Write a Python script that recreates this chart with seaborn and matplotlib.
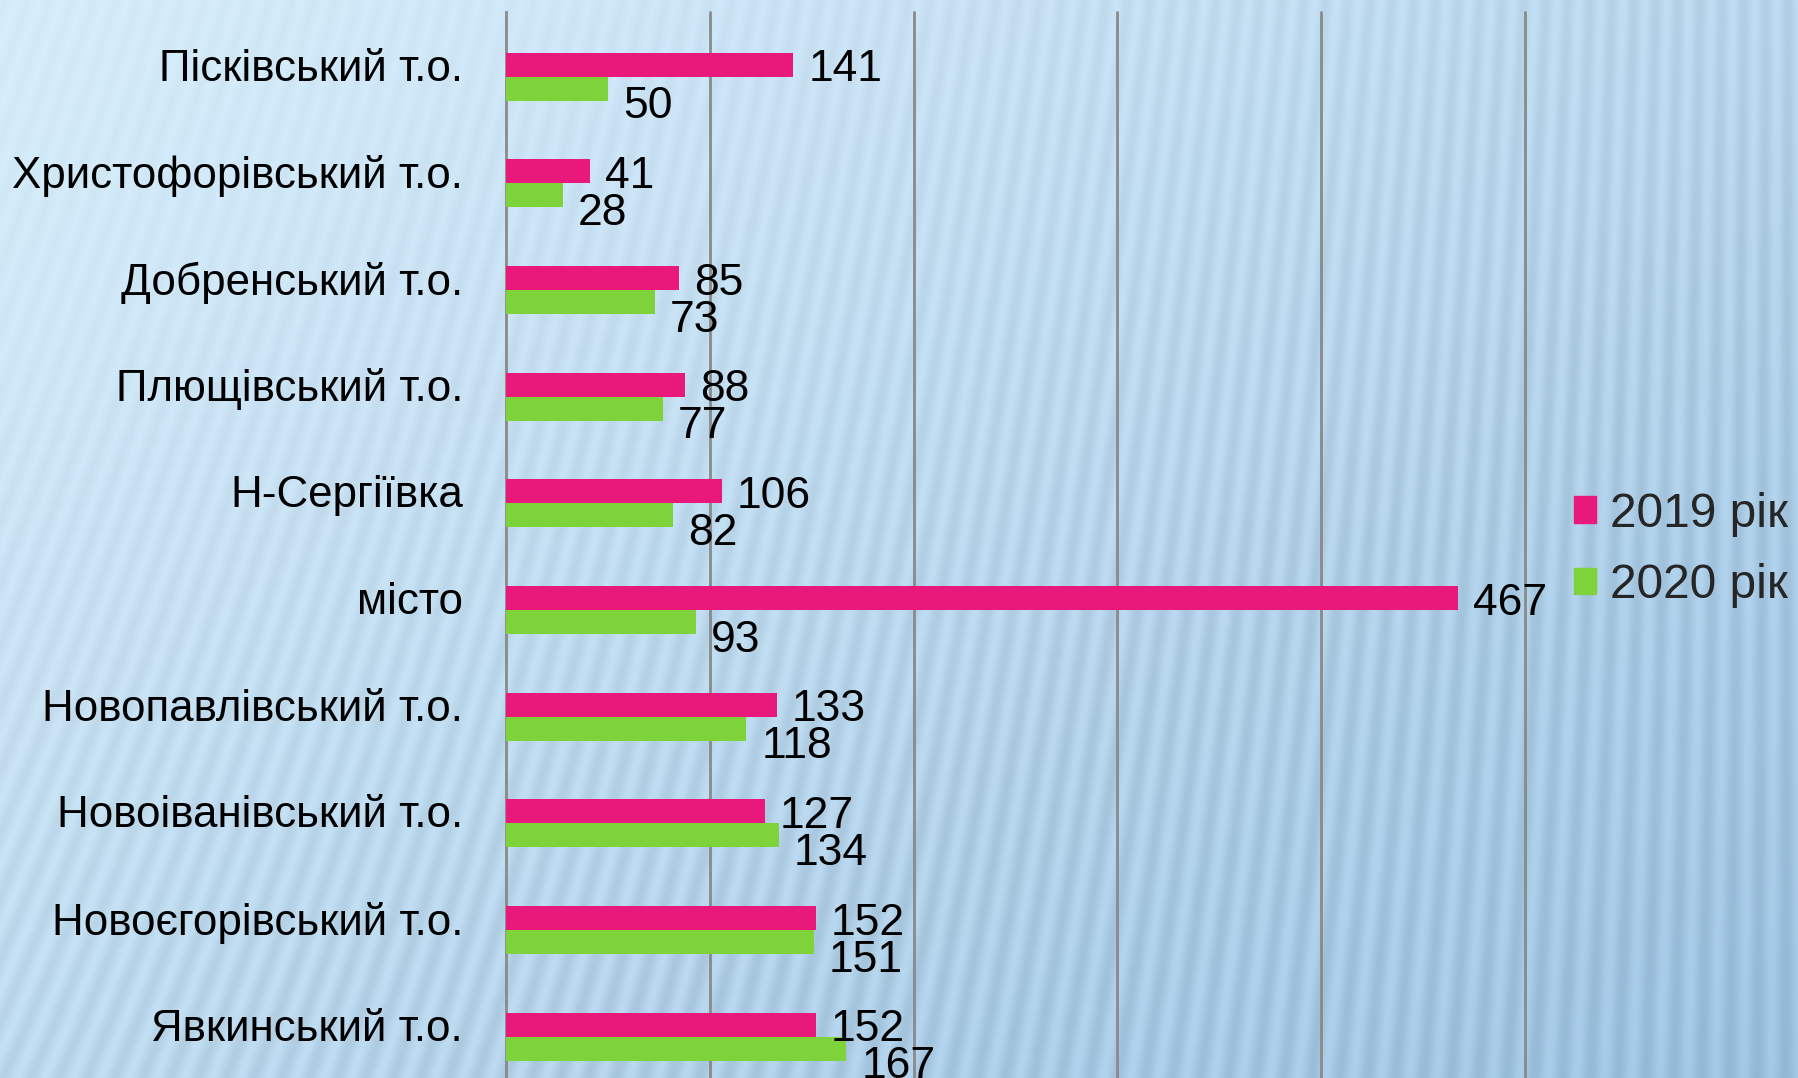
import numpy as np
import pandas as pd
import matplotlib
matplotlib.use('Agg')
import matplotlib.pyplot as plt
import seaborn as sns
from matplotlib.patches import Patch

# ---- data ----
districts = ['Пісківський т.о.', 'Христофорівський т.о.', 'Добренський т.о.',
             'Плющівський т.о.', 'Н-Сергіївка', 'місто', 'Новопавлівський т.о.',
             'Новоіванівський т.о.', 'Новоєгорівський т.о.', 'Явкинський т.о.']
y2019 = [141, 41, 85, 88, 106, 467, 133, 127, 152, 152]
y2020 = [50, 28, 73, 77, 82, 93, 118, 134, 151, 167]
years = ['2019 рік', '2020 рік']
colors = ['#E8197B', '#7ED23A']
grid_ticks = [100, 200, 300, 400, 500]

df = pd.DataFrame({
    'district': districts * 2,
    'value': y2019 + y2020,
    'year': [years[0]] * len(districts) + [years[1]] * len(districts),
})

sns.set_style('white')
plt.rcParams['font.family'] = ['Liberation Sans', 'DejaVu Sans']

W, H = 1798, 1078
fig = plt.figure(figsize=(W / 100, H / 100), dpi=100)

# ---- striped blue backdrop ----
yy, xx = np.mgrid[0:H, 0:W]
t = np.clip(0.55 * xx / W + 0.45 * yy / H, 0, 1)
light = np.array([216, 238, 252]) / 255
dark = np.array([163, 201, 231]) / 255
base = light + (dark - light) * (t[..., None] ** 1.2)
phase = (xx + yy * 0.35 * (1 - xx / W)) / 22.0
stripe = 0.5 + 0.5 * np.sin(2 * np.pi * phase)
strength = 0.02 + 0.05 * np.clip(yy / H + xx / W - 0.3, 0, 1)
img = np.clip(base - strength[..., None] * stripe[..., None], 0, 1)
bg = fig.add_axes([0, 0, 1, 1], zorder=0)
bg.imshow(img, aspect='auto')
bg.axis('off')

# ---- bars ----
ax = fig.add_axes([506 / W, 0, (1525 - 506) / W, 1 - 11.5 / H], zorder=1)
ax.patch.set_alpha(0)
sns.barplot(data=df, y='district', x='value', hue='year', palette=colors,
            width=0.45, orient='h', errorbar=None, saturation=1,
            legend=False, ax=ax, zorder=3, linewidth=0, edgecolor='none')

shift = 0.1125
n = len(districts)
ax.set_ylim(n - 1 - shift + 0.5, -shift - 0.5)
ax.set_xlim(0, 500)
ax.set_xticks(grid_ticks)
ax.set_xticklabels([])
ax.tick_params(axis='x', length=0)
ax.grid(axis='x', color='#8a8a8a', lw=2)
ax.set_axisbelow(True)
for gl in ax.get_xgridlines():
    gl.set_clip_on(False)

ax.set_yticks(np.arange(n) - shift)
ax.set_yticklabels(districts, fontsize=31.6, color='black')
ax.set_yticks(np.arange(n + 1) - shift - 0.5, minor=True)
ax.tick_params(axis='y', which='major', length=0, pad=31)
ax.tick_params(axis='y', which='minor', length=11, width=1.5, color='#8a8a8a')
ax.set_xlabel('')
ax.set_ylabel('')

for s in ['top', 'right', 'bottom']:
    ax.spines[s].set_visible(False)
ax.spines['left'].set_color('#8a8a8a')
ax.spines['left'].set_linewidth(2)

# value labels
for cont, vals, dy in zip(ax.containers, [y2019, y2020], [5, 18]):
    for bar, v in zip(cont, vals):
        ax.annotate(str(v), (bar.get_width(), bar.get_y() + bar.get_height() / 2),
                    xytext=(15, -dy), textcoords='offset pixels',
                    ha='left', va='center', fontsize=32, color='black',
                    annotation_clip=False, zorder=5)

# legend
handles = [Patch(color=c, label=l) for c, l in zip(colors, years)]
fig.legend(handles=handles, loc='center left', bbox_to_anchor=(1574 / W, 1 - 550 / H),
           frameon=False, fontsize=34.5, handlelength=0.46, handleheight=0.46,
           handletextpad=0.29, borderpad=0, borderaxespad=0, labelspacing=0.56)

fig.savefig('out.png', dpi=100)
